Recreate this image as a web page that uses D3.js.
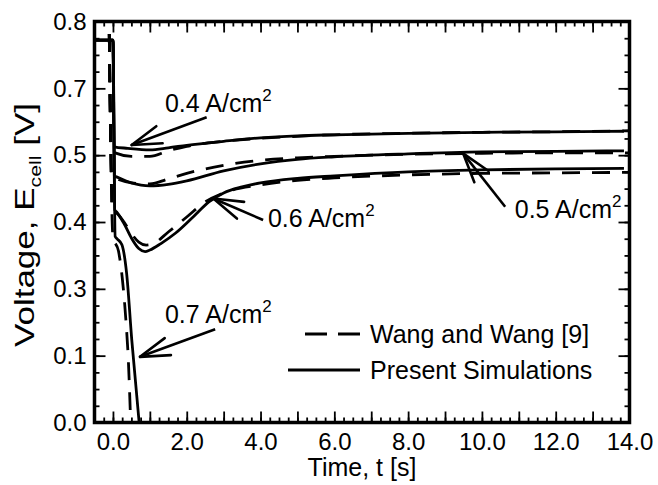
<!DOCTYPE html>
<html>
<head>
<meta charset="utf-8">
<script src="https://cdn.jsdelivr.net/npm/d3@7"></script>
<style>
  html, body { margin: 0; padding: 0; background: #fff; }
  svg { display: block; font-family: "Liberation Sans", Arial, Helvetica, sans-serif; }
</style>
</head>
<body>
<svg id="chart" width="658" height="485"></svg>
<script>
// Cell voltage transients after a step in current density: [time s, voltage V]
const wang04 = [[-0.1,0.775],[-0.043,0.545],[0.1,0.537],[0.5,0.531],[1.0,0.531],[1.5,0.542],[2.0,0.551],[2.5,0.557],[3.0,0.561],[4.0,0.567],[5.0,0.571],[6.0,0.574],[8.0,0.577],[10.0,0.579],[12.0,0.580],[14.0,0.582]];
const wang05 = [[-0.1,0.775],[-0.03,0.49],[0.1,0.486],[0.5,0.478],[1.0,0.476],[1.5,0.486],[2.0,0.497],[3.0,0.513],[4.0,0.523],[5.0,0.528],[6.0,0.531],[8.0,0.535],[10.0,0.537],[12.0,0.538],[14.0,0.538]];
const wang06 = [[-0.1,0.775],[-0.014,0.425],[0.1,0.418],[0.3,0.400],[0.5,0.377],[0.7,0.360],[0.9,0.354],[1.1,0.357],[1.5,0.380],[2.0,0.410],[2.5,0.440],[3.0,0.458],[4.0,0.474],[5.0,0.483],[6.0,0.488],[8.0,0.494],[10.0,0.497],[12.0,0.498],[14.0,0.499]];
const wang07 = [[-0.1,0.775],[0.0,0.37],[0.15,0.342],[0.25,0.290],[0.35,0.205],[0.42,0.120],[0.48,0.0]];

const present04 = [[-0.5,0.763],[0.0,0.763],[0.03,0.550],[0.4,0.547],[1.0,0.544],[1.5,0.548],[2.0,0.553],[3.0,0.561],[4.0,0.568],[5.0,0.572],[6.0,0.574],[8.0,0.577],[10.0,0.579],[12.0,0.580],[13.85,0.581]];
const present05 = [[-0.5,0.763],[0.0,0.763],[0.04,0.492],[0.1,0.490],[0.5,0.478],[1.0,0.472],[1.5,0.475],[2.0,0.482],[3.0,0.502],[4.0,0.516],[5.0,0.525],[6.0,0.530],[8.0,0.536],[10.0,0.540],[12.0,0.541],[13.85,0.542]];
const present06 = [[-0.5,0.763],[0.0,0.763],[0.05,0.424],[0.1,0.420],[0.3,0.397],[0.5,0.368],[0.7,0.347],[0.87,0.341],[1.0,0.344],[1.3,0.357],[1.7,0.378],[2.2,0.412],[2.6,0.440],[3.0,0.458],[3.5,0.470],[4.0,0.478],[5.0,0.487],[6.0,0.492],[8.0,0.500],[10.0,0.504],[12.0,0.506],[13.85,0.507]];
const present07 = [[-0.5,0.763],[0.0,0.763],[0.06,0.371],[0.12,0.366],[0.24,0.355],[0.37,0.298],[0.51,0.165],[0.71,0.0]];

// Current-density callouts: arrow tip on a curve, arrow tail, label anchor
const calloutLabels = ["0.4 A/cm", "0.5 A/cm", "0.6 A/cm", "0.7 A/cm"];
const calloutTips   = [[0.507,0.5536],[9.49,0.537],[2.72,0.447],[0.733,0.131]];
const calloutTails  = [[2.54,0.609],[10.63,0.4305],[4.07,0.404],[2.77,0.186]];
const calloutText   = [[1.41,0.620],[10.89,0.4074],[4.20,0.3906],[1.41,0.198]];

// Axis ticks and labels
const xLabelValues = [0, 2, 4, 6, 8, 10, 12, 14];
const xTickLabels = ["0.0","2.0","4.0","6.0","8.0","10.0","12.0","14.0"];
const yTickLabels = ["0.0","0.1","0.3","0.4","0.5","0.7","0.8"];
const legendLabels = ["Wang and Wang [9]", "Present Simulations"];

const svg = d3.select("#chart");
const plot = { left: 94.5, right: 629.5, top: 21.5, bottom: 422.5 };

const x = d3.scaleLinear().domain([-0.5, 14]).range([plot.left, plot.right]);
const y = d3.scaleLinear().domain([0, 0.8]).range([plot.bottom, plot.top]);

const yStep = 0.8 / 6;
const yMajor = d3.range(0, 7).map(i => i * yStep);
const yMinor = d3.range(0, 25).map(i => i * yStep / 4);
const xMajor = d3.range(0, 15);
const xMinor = d3.range(-2, 57).map(i => i * 0.25);

svg.append("clipPath").attr("id", "plotClip")
  .append("rect")
  .attr("x", plot.left).attr("y", plot.top)
  .attr("width", plot.right - plot.left).attr("height", plot.bottom - plot.top);

// Ticks, pointing into the frame on every side
function tickAxis(axisGen, transform) {
  const g = svg.append("g").attr("transform", transform).call(axisGen);
  g.select(".domain").remove();
  g.selectAll(".tick line").attr("stroke", "#000").attr("stroke-width", 1.8);
  return g;
}
const major = 11, minor = 5;
tickAxis(d3.axisBottom(x).tickValues(xMinor).tickSize(-minor).tickFormat(""), `translate(0,${plot.bottom})`);
tickAxis(d3.axisTop(x).tickValues(xMinor).tickSize(-minor).tickFormat(""), `translate(0,${plot.top})`);
tickAxis(d3.axisBottom(x).tickValues(xMajor).tickSize(-major).tickFormat(""), `translate(0,${plot.bottom})`);
tickAxis(d3.axisTop(x).tickValues(xMajor).tickSize(-major).tickFormat(""), `translate(0,${plot.top})`);
tickAxis(d3.axisLeft(y).tickValues(yMinor).tickSize(-minor).tickFormat(""), `translate(${plot.left},0)`);
tickAxis(d3.axisRight(y).tickValues(yMinor).tickSize(-minor).tickFormat(""), `translate(${plot.right},0)`);
tickAxis(d3.axisLeft(y).tickValues(yMajor).tickSize(-major).tickFormat(""), `translate(${plot.left},0)`);
tickAxis(d3.axisRight(y).tickValues(yMajor).tickSize(-major).tickFormat(""), `translate(${plot.right},0)`);

// Tick labels
const xLab = svg.append("g").attr("transform", `translate(0,${plot.bottom})`)
  .call(d3.axisBottom(x).tickValues(xLabelValues).tickSize(0).tickPadding(10)
        .tickFormat((d, i) => xTickLabels[i]));
xLab.select(".domain").remove();
xLab.selectAll("text").attr("font-size", 24).attr("fill", "#000")
  .attr("font-family", "Liberation Sans, Arial, sans-serif");

const yLab = svg.append("g").attr("transform", `translate(${plot.left},0)`)
  .call(d3.axisLeft(y).tickValues(yMajor).tickSize(0).tickPadding(8)
        .tickFormat((d, i) => yTickLabels[i]));
yLab.select(".domain").remove();
yLab.selectAll("text").attr("font-size", 24).attr("fill", "#000")
  .attr("font-family", "Liberation Sans, Arial, sans-serif");

// Curves
const line = d3.line().x(d => x(d[0])).y(d => y(d[1])).curve(d3.curveMonotoneX);
const curves = svg.append("g").attr("clip-path", "url(#plotClip)");
[wang04, wang05, wang06, wang07].forEach(s => {
  curves.append("path").attr("d", line(s)).attr("fill", "none")
    .attr("stroke", "#000").attr("stroke-width", 2.8)
    .attr("stroke-dasharray", "18,12");
});
[present04, present05, present06, present07].forEach(s => {
  curves.append("path").attr("d", line(s)).attr("fill", "none")
    .attr("stroke", "#000").attr("stroke-width", 2.8)
    .attr("stroke-linejoin", "round");
});

// Callout arrows with open heads
const ann = svg.append("g");
calloutLabels.forEach((lab, i) => {
  const tx = x(calloutTips[i][0]), ty = y(calloutTips[i][1]);
  const sx = x(calloutTails[i][0]), sy = y(calloutTails[i][1]);
  const ang = Math.atan2(sy - ty, sx - tx);
  const len = 31, spread = 17 * Math.PI / 180;
  ann.append("line").attr("x1", sx).attr("y1", sy).attr("x2", tx).attr("y2", ty)
    .attr("stroke", "#000").attr("stroke-width", 2.6);
  [ang - spread, ang + spread].forEach(a => {
    ann.append("line").attr("x1", tx).attr("y1", ty)
      .attr("x2", tx + len * Math.cos(a)).attr("y2", ty + len * Math.sin(a))
      .attr("stroke", "#000").attr("stroke-width", 2.6).attr("stroke-linecap", "round");
  });
  const t = ann.append("text").attr("x", x(calloutText[i][0])).attr("y", y(calloutText[i][1]))
    .attr("font-size", 25).attr("fill", "#000");
  t.append("tspan").text(lab);
  t.append("tspan").attr("font-size", 17).attr("dy", -11).text("2");
});

// Frame
svg.append("rect")
  .attr("x", plot.left).attr("y", plot.top)
  .attr("width", plot.right - plot.left).attr("height", plot.bottom - plot.top)
  .attr("fill", "none").attr("stroke", "#000").attr("stroke-width", 3.5);

// Legend
const leg = svg.append("g");
leg.append("line").attr("x1", 305).attr("x2", 360).attr("y1", 334).attr("y2", 334)
  .attr("stroke", "#000").attr("stroke-width", 3).attr("stroke-dasharray", "22,11");
leg.append("line").attr("x1", 288).attr("x2", 360).attr("y1", 370).attr("y2", 370)
  .attr("stroke", "#000").attr("stroke-width", 3);
legendLabels.forEach((lab, i) => {
  leg.append("text").attr("x", 370).attr("y", i === 0 ? 334 : 370).attr("dy", "0.35em")
    .attr("font-size", 25).attr("fill", "#000").text(lab);
});

// Axis titles
svg.append("text").attr("x", (plot.left + plot.right) / 2).attr("y", 476)
  .attr("text-anchor", "middle").attr("font-size", 25).attr("fill", "#000")
  .text("Time, t [s]");

// Vertical title, stretched along its baseline to span the same run as the axis label block
const yTitleLength = 244, yTitleCenter = 225, yTitleBaseline = 34;
const ytG = svg.append("g");
const yt = ytG.append("text").attr("text-anchor", "middle").attr("font-size", 28).attr("fill", "#000");
yt.append("tspan").text("Voltage, E");
yt.append("tspan").attr("font-size", 17).attr("dy", 7).text("cell");
yt.append("tspan").attr("dy", -7).text(" [V]");
const natural = yt.node().getComputedTextLength();
ytG.attr("transform", `translate(${yTitleBaseline},${yTitleCenter}) rotate(-90) scale(${yTitleLength / natural},1)`);
</script>
</body>
</html>
